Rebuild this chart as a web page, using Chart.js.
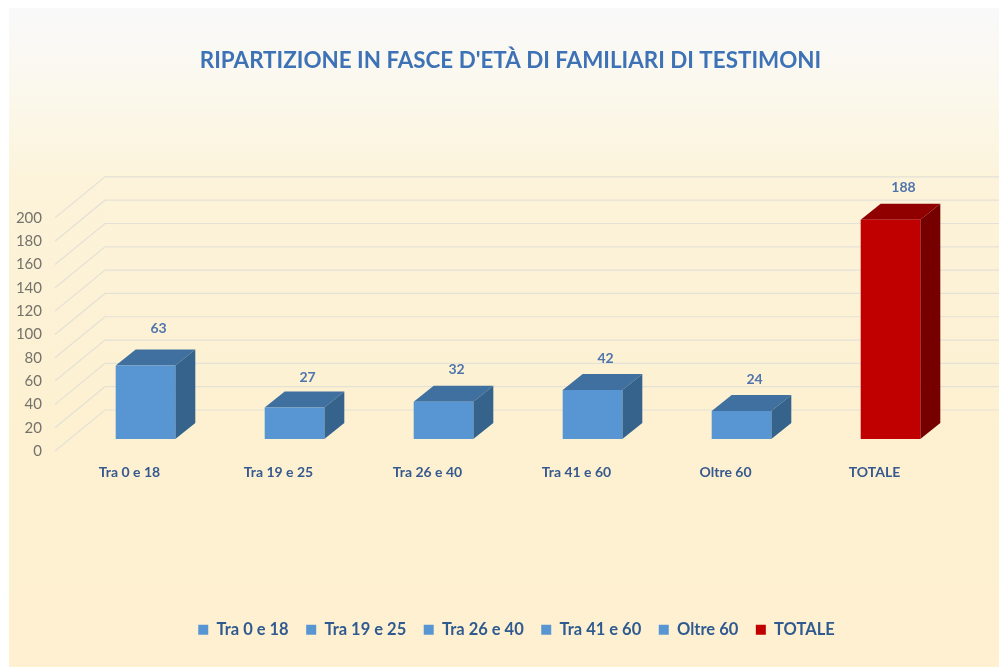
<!DOCTYPE html>
<html><head><meta charset="utf-8">
<style>html,body{margin:0;padding:0;background:#fff}#w{width:999px;height:667px;position:relative}</style>
<script src="https://cdn.jsdelivr.net/npm/chart.js@4"></script>
</head><body><div id="w"><canvas id="c" width="999" height="667"></canvas></div>
<script>
const categories=["Tra 0 e 18","Tra 19 e 25","Tra 26 e 40","Tra 41 e 60","Oltre 60","TOTALE"];
const values=[63,27,32,42,24,188];
const titleText="RIPARTIZIONE IN FASCE D'ETÀ DI FAMILIARI DI TESTIMONI";
const blue={front:"#5896d3",top:"#3f709f",side:"#35638b"};
const red={front:"#c00000",top:"#900000",side:"#760000"};
const palette=categories.map(c=>c==="TOTALE"?red:blue);
const FONT="Lato, Carlito, sans-serif";
const DEPTH={x:20,y:16};
const WALL={x0:55,x1:105,front:12,back:-29};
const labelNudge=[-5,2,0,0,0,0];

const scene={
 id:"scene",
 afterLayout(ch){
  ch.titleBlock.left+=28;ch.titleBlock.right+=28;
  ch.legend.left+=34;ch.legend.right+=34;
 },
 beforeDraw(ch){
  const g=ch.ctx,W=ch.width,H=ch.height;
  g.save();
  g.fillStyle="#fff";g.fillRect(0,0,W,H);
  const gr=g.createLinearGradient(0,8,0,H);
  gr.addColorStop(0,"#f9f9fa");gr.addColorStop(.13,"#fbf8ec");gr.addColorStop(.26,"#fcf3da");gr.addColorStop(.6,"#fdf1d2");gr.addColorStop(1,"#fef0d1");
  g.fillStyle=gr;g.fillRect(9,8,W-9,H-8);
  g.restore();
 },
 beforeDatasetsDraw(ch){
  const g=ch.ctx,y=ch.scales.y;
  g.save();
  g.strokeStyle="#e4e1d6";g.lineWidth=1.2;
  y.ticks.forEach(t=>{
   const p=y.getPixelForValue(t.value);
   g.beginPath();
   g.moveTo(WALL.x0,p+WALL.front);
   g.lineTo(WALL.x1,p+WALL.back);
   g.lineTo(ch.width,p+WALL.back);
   g.stroke();
  });
  ch.getDatasetMeta(0).data.forEach((b,i)=>{
   const c=palette[i],l=b.x-b.width/2,r=b.x+b.width/2,t=b.y,bt=b.base;
   g.fillStyle=c.top;
   g.beginPath();g.moveTo(l,t);g.lineTo(l+DEPTH.x,t-DEPTH.y);g.lineTo(r+DEPTH.x,t-DEPTH.y);g.lineTo(r,t);g.closePath();g.fill();
   g.fillStyle=c.side;
   g.beginPath();g.moveTo(r,t);g.lineTo(r+DEPTH.x,t-DEPTH.y);g.lineTo(r+DEPTH.x,bt-DEPTH.y);g.lineTo(r,bt);g.closePath();g.fill();
  });
  g.restore();
 },
 afterDatasetsDraw(ch){
  const g=ch.ctx;
  g.save();
  g.font="bold 14px "+FONT;g.fillStyle="#4f74ad";g.textAlign="center";g.textBaseline="middle";
  ch.getDatasetMeta(0).data.forEach((b,i)=>{
   g.fillText(String(values[i]),b.x+13,b.y-32+labelNudge[i]);
  });
  g.restore();
 }
};

new Chart(document.getElementById("c"),{
 type:"bar",
 plugins:[scene],
 data:{labels:categories,datasets:[{data:values,
  backgroundColor:palette.map(c=>c.front),
  categoryPercentage:1,barPercentage:0.4}]},
 options:{
  responsive:false,animation:false,
  layout:{padding:{left:0,right:34,top:0,bottom:19}},
  plugins:{
   title:{display:true,text:titleText,color:"#3e72b6",font:{family:FONT,size:22.4,weight:"bold"},padding:{top:47.5,bottom:131.5}},
   legend:{display:true,position:"bottom",
    labels:{font:{family:FONT,size:16.5,weight:"bold"},color:"#2f5a90",boxWidth:10,boxHeight:10,padding:17.5,
     generateLabels:()=>categories.map((c,i)=>({text:c,fillStyle:palette[i].front,strokeStyle:palette[i].front,lineWidth:0,hidden:false,index:i,fontColor:"#2f5a90"}))}},
   tooltip:{enabled:false}
  },
  scales:{
   x:{grid:{display:false},border:{display:false},
      ticks:{color:"#36598e",font:{family:FONT,size:14,weight:"bold"},labelOffset:-16,padding:17,maxRotation:0},
      afterFit(s){s.height=165;}},
   y:{min:0,max:200,grid:{display:false},border:{display:false},
      ticks:{stepSize:20,color:"#75726b",font:{family:FONT,size:15},labelOffset:12,padding:21},
      afterFit(s){s.width=71;}}
  }
 }
});
</script></body></html>
